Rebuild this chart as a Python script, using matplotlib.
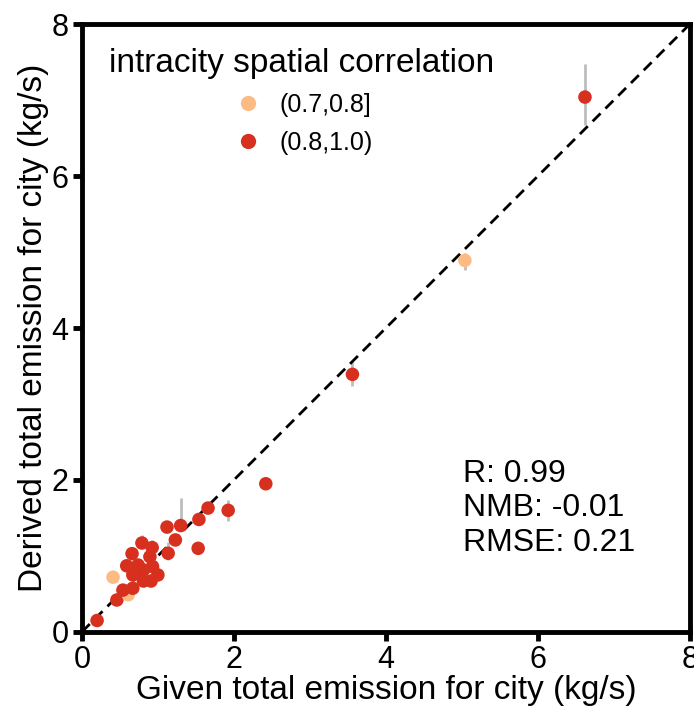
import matplotlib
matplotlib.use("Agg")
import matplotlib.pyplot as plt
from matplotlib.lines import Line2D
import numpy as np

plt.rcParams['font.family'] = ['Liberation Sans', 'DejaVu Sans']

# Data (given, derived, group, lower error, upper error)
given = [0.20, 0.46, 0.61, 0.41, 0.54, 0.67, 0.81, 0.91, 1.00, 0.67,
         0.59, 0.74, 0.93, 0.81, 0.66, 0.79, 0.925, 0.895, 1.135, 1.12,
         1.30, 1.23, 1.54, 1.66, 1.53, 1.925, 2.42, 3.56, 5.04, 6.62]
derived = [0.15, 0.42, 0.49, 0.72, 0.55, 0.575, 0.67, 0.67, 0.75, 0.75,
           0.87, 0.88, 0.86, 0.815, 1.03, 1.17, 1.11, 0.99, 1.035, 1.38,
           1.40, 1.21, 1.48, 1.63, 1.10, 1.60, 1.95, 3.39, 4.89, 7.04]
group = ["hi", "hi", "lo", "lo", "hi", "hi", "hi", "hi", "hi", "hi",
         "hi", "hi", "hi", "hi", "hi", "hi", "hi", "hi", "hi", "hi",
         "hi", "hi", "hi", "hi", "hi", "hi", "hi", "hi", "lo", "hi"]
err_lo = [0, 0, 0, 0, 0, 0, 0, 0, 0, 0,
          0, 0, 0, 0, 0, 0, 0, 0, 0.09, 0,
          0.05, 0, 0, 0, 0, 0.14, 0, 0.15, 0.12, 0.37]
err_hi = [0, 0, 0, 0, 0, 0, 0, 0, 0, 0,
          0, 0, 0, 0, 0, 0.11, 0.10, 0, 0.15, 0,
          0.36, 0, 0, 0, 0, 0.14, 0, 0.18, 0.10, 0.43]

group_labels = {"lo": "(0.7,0.8]", "hi": "(0.8,1.0)"}
group_colors = {"lo": "#FDBB84", "hi": "#D7301F"}
stats_text = ["R: 0.99", "NMB: -0.01", "RMSE: 0.21"]
ticks = [0, 2, 4, 6, 8]

fig = plt.figure(figsize=(6.94, 7.10), dpi=100)
ax = fig.add_axes([0.118, 0.110, 0.876, 0.856])

g = np.array(given); d = np.array(derived)
lo = np.array(err_lo); hi = np.array(err_hi)
ax.errorbar(g, d, yerr=[lo, hi], fmt='none', ecolor='#BDBDBD', elinewidth=2, capsize=0, zorder=2)

ax.axline((0, 0), slope=1, color='black', lw=2, ls=(0, (4, 2.5)), zorder=3)

cols = [group_colors[k] for k in group]
ax.scatter(g, d, s=95, c=cols, edgecolors='none', zorder=4)

ax.set_xlim(0, 8)
ax.set_ylim(0, 8)
ax.set_xticks(ticks)
ax.set_yticks(ticks)
ax.tick_params(direction='out', length=6.5, width=3.5, labelsize=22, pad=3)
for s in ax.spines.values():
    s.set_linewidth(3.5)

ax.set_xlabel("Given total emission for city (kg/s)", fontsize=24, labelpad=0)
ax.set_ylabel("Derived total emission for city (kg/s)", fontsize=24, labelpad=2)

handles = [Line2D([], [], marker='o', ls='none', markersize=11, markeredgewidth=0,
                  color=group_colors[k], label=group_labels[k]) for k in ["lo", "hi"]]
leg = ax.legend(handles=handles, title="intracity spatial correlation", loc='upper left',
                bbox_to_anchor=(0.02, 0.985), frameon=False, fontsize=18,
                title_fontsize=24, handlelength=1.4, handletextpad=0.54,
                labelspacing=0.55, borderaxespad=0.2)
leg._legend_box.align = "center"

ax.text(0.627, 0.285, "\n".join(stats_text), transform=ax.transAxes, fontsize=23,
        va='top', ha='left', linespacing=1.2)

fig.savefig("out.png", dpi=100)
